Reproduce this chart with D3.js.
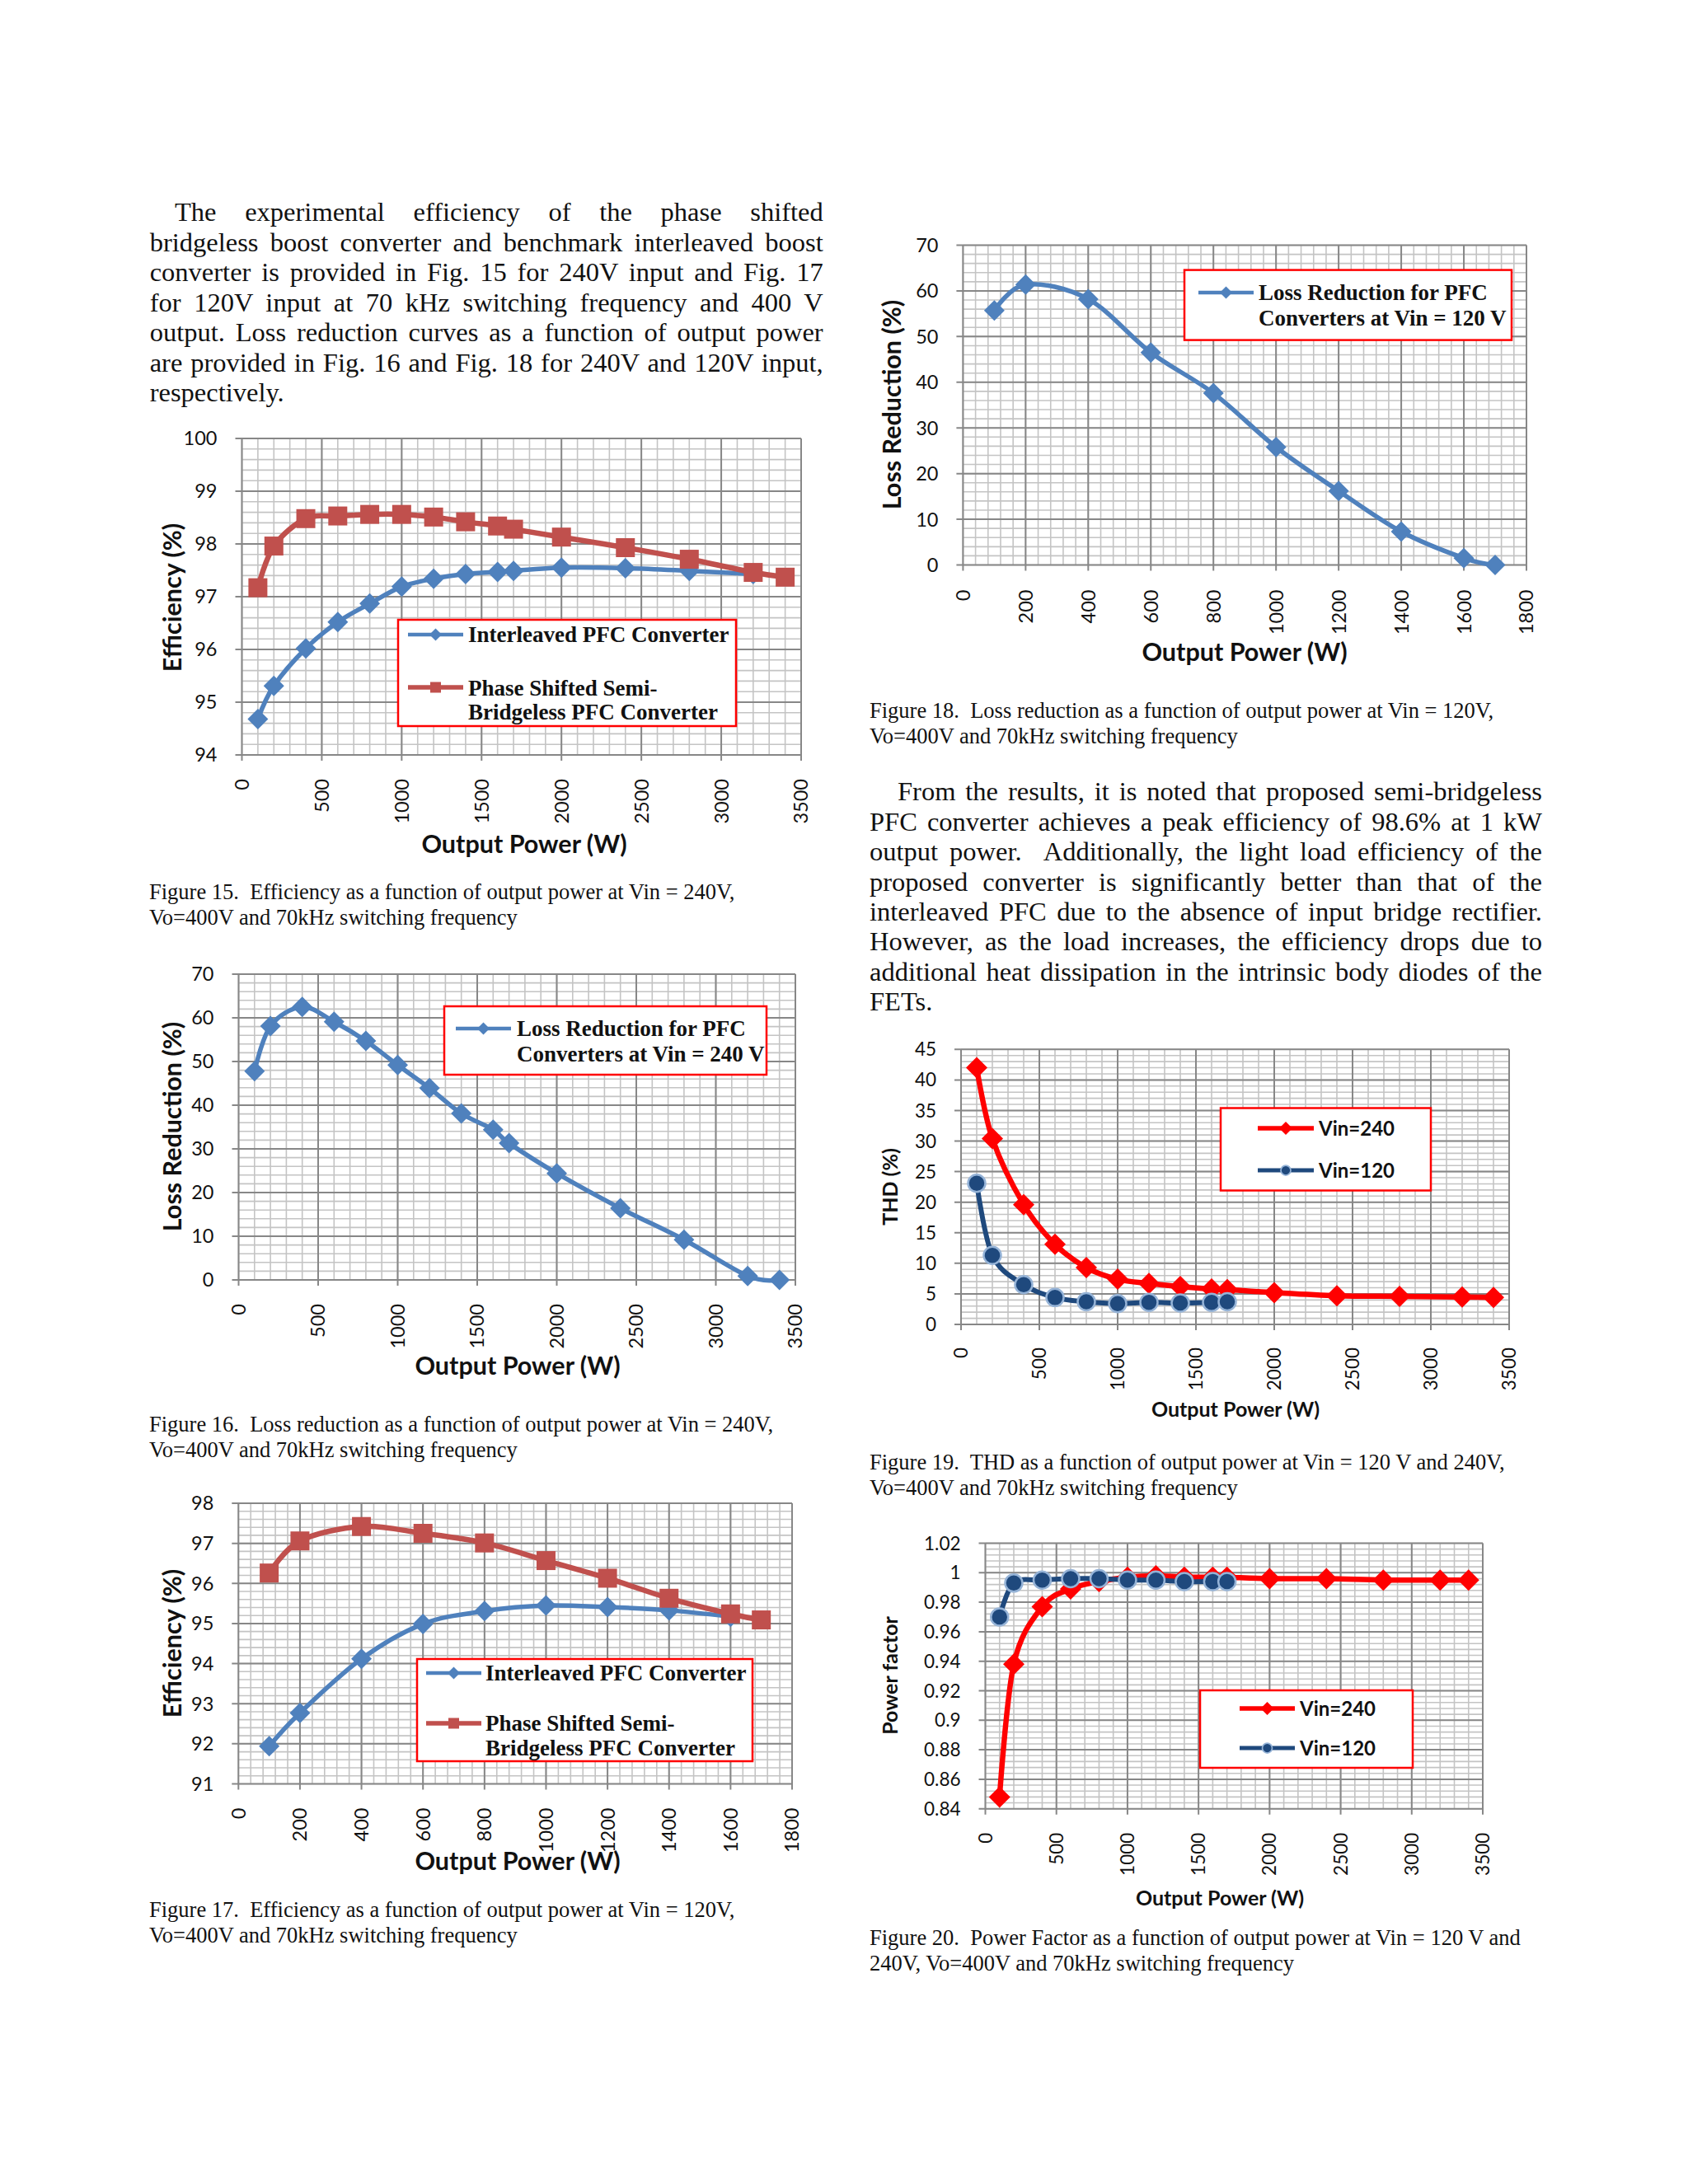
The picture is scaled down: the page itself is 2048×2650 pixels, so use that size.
<!DOCTYPE html>
<html>
<head>
<meta charset="utf-8">
<script src="https://cdn.jsdelivr.net/npm/d3@7"></script>
<style>
  body { margin: 0; background: #fff; }
  .serif { font-family: "Liberation Serif", "Times New Roman", serif; fill: #111; }
  .sans { font-family: Lato, "Open Sans", sans-serif; fill: #111; }
</style>
</head>
<body>
<svg id="page"></svg>
<script>
// --- data ---

const powerVin240 = [100, 200, 400, 600, 800, 1000, 1200, 1400, 1600, 1700, 2000, 2400, 2800, 3200, 3400];
const powerVin120 = [100, 200, 400, 600, 800, 1000, 1200, 1400, 1600, 1700];

// Fig 15 : efficiency at 240 V
const eff240Interleaved = [94.68, 95.31, 96.02, 96.52, 96.87, 97.19, 97.34, 97.43, 97.47, 97.49, 97.55, 97.54, 97.49, 97.43];
const eff240PhaseShifted = [97.17, 97.96, 98.48, 98.53, 98.56, 98.56, 98.51, 98.42, 98.34, 98.28, 98.13, 97.93, 97.71, 97.46, 97.37];
// Fig 16 : loss reduction at 240 V
const lossRed240 = [47.8, 58.1, 62.5, 59.1, 54.7, 49.2, 43.9, 38.1, 34.4, 31.3, 24.4, 16.4, 9.2, 0.9, 0];
// Fig 17 : efficiency at 120 V
const eff120Interleaved = [91.94, 92.77, 94.12, 94.99, 95.31, 95.45, 95.41, 95.33, 95.17];
const eff120PhaseShifted = [96.26, 97.06, 97.42, 97.25, 97.01, 96.57, 96.13, 95.63, 95.24, 95.09];
// Fig 18 : loss reduction at 120 V
const lossRed120 = [55.7, 61.4, 58.2, 46.5, 37.6, 25.8, 16.2, 7.3, 1.5, 0];
// Fig 19 : THD
const thd240 = [42.0, 30.4, 19.6, 13.1, 9.3, 7.4, 6.7, 6.2, 5.8, 5.7, 5.2, 4.7, 4.6, 4.5, 4.4];
const thd120 = [23.1, 11.3, 6.5, 4.4, 3.7, 3.4, 3.6, 3.5, 3.6, 3.7];
// Fig 20 : power factor
const pf240 = [0.848, 0.938, 0.977, 0.989, 0.994, 0.997, 0.998, 0.997, 0.997, 0.997, 0.996, 0.996, 0.995, 0.995, 0.995];
const pf120 = [0.970, 0.993, 0.995, 0.996, 0.996, 0.995, 0.995, 0.994, 0.994, 0.994];

// tick labels
const xTicks3500 = ['0', '500', '1000', '1500', '2000', '2500', '3000', '3500'];
const xTicks1800 = ['0', '200', '400', '600', '800', '1000', '1200', '1400', '1600', '1800'];
const yTicksEff240 = ['94', '95', '96', '97', '98', '99', '100'];
const yTicksLoss = ['0', '10', '20', '30', '40', '50', '60', '70'];
const yTicksEff120 = ['91', '92', '93', '94', '95', '96', '97', '98'];
const yTicksThd = ['0', '5', '10', '15', '20', '25', '30', '35', '40', '45'];
const yTicksPf = ['0.84', '0.86', '0.88', '0.9', '0.92', '0.94', '0.96', '0.98', '1', '1.02'];

// text of the page
const para1 = [
  'The experimental efficiency of the phase shifted',
  'bridgeless boost converter and benchmark interleaved boost',
  'converter is provided in Fig. 15 for 240V input and Fig. 17',
  'for 120V input at 70 kHz switching frequency and 400 V',
  'output. Loss reduction curves as a function of output power',
  'are provided in Fig. 16 and Fig. 18 for 240V and 120V input,',
  'respectively.'
];
const para2 = [
  'From the results, it is noted that proposed semi-bridgeless',
  'PFC converter achieves a peak efficiency of 98.6% at 1 kW',
  'output power.  Additionally, the light load efficiency of the',
  'proposed converter is significantly better than that of the',
  'interleaved PFC due to the absence of input bridge rectifier.',
  'However, as the load increases, the efficiency drops due to',
  'additional heat dissipation in the intrinsic body diodes of the',
  'FETs.'
];

const svg = d3.select('#page').attr('width', 2048).attr('height', 2650);
svg.append('rect').attr('width', 2048).attr('height', 2650).attr('fill', '#fff');

// --- helpers ---

function justified(lines, x0, indentX, width, base0, gap) {
  lines.forEach((ln, i) => {
    const x = i === 0 ? indentX : x0;
    const w = width - (x - x0);
    const t = svg.append('text').attr('class', 'serif')
      .attr('x', x).attr('y', base0 + i * gap)
      .style('font-size', '32.5px').style('white-space', 'pre')
      .text(ln);
    if (i < lines.length - 1) {
      const len = t.node().getComputedTextLength();
      const spaces = (ln.match(/ /g) || []).length;
      if (spaces) t.attr('word-spacing', (w - len) / spaces);
    }
  });
}

function caption(lines, x, base0) {
  lines.forEach((ln, i) => {
    svg.append('text').attr('class', 'serif')
      .attr('x', x).attr('y', base0 + i * 31)
      .style('font-size', '26.5px').style('white-space', 'pre')
      .text(ln);
  });
}

function markerPath(type, s) {
  if (type === 'diamond') return `M0,${-s}L${s},0L0,${s}L${-s},0Z`;
  if (type === 'square') return `M${-s},${-s}H${s}V${s}H${-s}Z`;
  return `M${s},0A${s},${s} 0 1,1 ${-s},0A${s},${s} 0 1,1 ${s},0Z`;
}

function drawChart(c) {
  const g = svg.append('g');
  const xt = c.xTicks.map(Number), yt = c.yTicks.map(Number);
  const x = d3.scaleLinear().domain([xt[0], xt[xt.length - 1]]).range([c.left, c.right]);
  const y = d3.scaleLinear().domain([yt[0], yt[yt.length - 1]]).range([c.bottom, c.top]);

  // minor grid
  const nx = Math.round((x.domain()[1] - x.domain()[0]) / c.xMinor);
  const ny = Math.round((y.domain()[1] - y.domain()[0]) / c.yMinor);
  const xMin = d3.range(nx + 1).map(i => x.domain()[0] + i * c.xMinor);
  const yMin = d3.range(ny + 1).map(i => y.domain()[0] + i * c.yMinor);
  g.selectAll(null).data(xMin).join('line')
    .attr('x1', d => x(d)).attr('x2', d => x(d)).attr('y1', c.top).attr('y2', c.bottom)
    .attr('stroke', '#c4c4c4').attr('stroke-width', 1.6);
  g.selectAll(null).data(yMin).join('line')
    .attr('x1', c.left).attr('x2', c.right).attr('y1', d => y(d)).attr('y2', d => y(d))
    .attr('stroke', '#c4c4c4').attr('stroke-width', 1.6);

  // major grid + ticks
  g.selectAll(null).data(xt).join('line')
    .attr('x1', d => x(d)).attr('x2', d => x(d)).attr('y1', c.top).attr('y2', c.bottom + 7)
    .attr('stroke', '#878787').attr('stroke-width', 2);
  g.selectAll(null).data(yt).join('line')
    .attr('x1', c.left - 8).attr('x2', c.right).attr('y1', d => y(d)).attr('y2', d => y(d))
    .attr('stroke', '#878787').attr('stroke-width', 2);

  // tick labels
  g.selectAll(null).data(c.yTicks).join('text').attr('class', 'sans')
    .attr('x', c.left - 30).attr('y', d => y(+d)).attr('dy', '0.36em')
    .attr('text-anchor', 'end').style('font-size', c.tickFont + 'px')
    .text(d => d);
  g.selectAll(null).data(c.xTicks).join('text').attr('class', 'sans')
    .attr('transform', d => `translate(${x(+d)},${c.bottom + c.xLabelGap}) rotate(-90)`)
    .attr('dy', '0.36em').attr('text-anchor', 'end').style('font-size', c.tickFont + 'px')
    .text(d => d);

  // axis titles
  g.append('text').attr('class', 'sans')
    .attr('transform', `translate(${c.yTitle[1]},${c.yTitle[2]}) rotate(-90)`)
    .attr('dy', '0.36em').attr('text-anchor', 'middle')
    .style('font-size', c.titleFont + 'px').style('font-weight', 700)
    .text(c.yTitle[0]);
  g.append('text').attr('class', 'sans')
    .attr('x', c.xTitle[1]).attr('y', c.xTitle[2]).attr('dy', '0.36em').attr('text-anchor', 'middle')
    .style('font-size', c.titleFont + 'px').style('font-weight', 700)
    .text(c.xTitle[0]);

  // series
  const line = d3.line().x(d => x(d[0])).y(d => y(d[1])).curve(d3.curveCatmullRom.alpha(0));
  c.series.forEach(s => {
    const pts = s.y.map((v, i) => [s.x[i], v]);
    g.append('path').datum(pts).attr('d', line)
      .attr('fill', 'none').attr('stroke', s.color).attr('stroke-width', s.width)
      .attr('stroke-linejoin', 'round').attr('stroke-linecap', 'round');
    g.selectAll(null).data(pts).join('path')
      .attr('transform', d => `translate(${x(d[0])},${y(d[1])})`)
      .attr('d', markerPath(s.marker, s.size))
      .attr('fill', s.fill).attr('stroke', s.stroke || 'none').attr('stroke-width', s.strokeWidth || 0);
  });

  // legend
  const lg = c.legend;
  g.append('rect').attr('x', lg.x).attr('y', lg.y).attr('width', lg.w).attr('height', lg.h)
    .attr('fill', '#fff').attr('stroke', '#ff0000').attr('stroke-width', 2.5);
  lg.items.forEach(it => {
    const s = c.series[it.series];
    g.append('line').attr('x1', lg.x1).attr('x2', lg.x2).attr('y1', it.y).attr('y2', it.y)
      .attr('stroke', s.color).attr('stroke-width', s.width * 0.85);
    g.append('path').attr('transform', `translate(${(lg.x1 + lg.x2) / 2},${it.y})`)
      .attr('d', markerPath(s.marker, it.size))
      .attr('fill', s.fill).attr('stroke', s.stroke || 'none').attr('stroke-width', (s.strokeWidth || 0) * 0.7);
    it.text.forEach((t, j) => {
      g.append('text').attr('class', lg.serif ? 'serif' : 'sans')
        .attr('x', lg.tx).attr('y', it.base + j * lg.gap)
        .style('font-size', lg.font + 'px').style('font-weight', 700)
        .text(t);
    });
  });
}

// --- text ---
justified(para1, 181.7, 212, 817, 268.3, 36.5);
justified(para2, 1055, 1089, 816, 971.3, 36.4);

caption(['Figure 15.  Efficiency as a function of output power at Vin = 240V,', 'Vo=400V and 70kHz switching frequency'], 181, 1091);
caption(['Figure 16.  Loss reduction as a function of output power at Vin = 240V,', 'Vo=400V and 70kHz switching frequency'], 181, 1737);
caption(['Figure 17.  Efficiency as a function of output power at Vin = 120V,', 'Vo=400V and 70kHz switching frequency'], 181, 2326);
caption(['Figure 18.  Loss reduction as a function of output power at Vin = 120V,', 'Vo=400V and 70kHz switching frequency'], 1055, 871);
caption(['Figure 19.  THD as a function of output power at Vin = 120 V and 240V,', 'Vo=400V and 70kHz switching frequency'], 1055, 1783);
caption(['Figure 20.  Power Factor as a function of output power at Vin = 120 V and', '240V, Vo=400V and 70kHz switching frequency'], 1055, 2360);

// --- charts ---
const BLUE = '#4f81bd', RED = '#c0504d', PURE_RED = '#ff0000', NAVY = '#1f497d';

drawChart({
  left: 293.5, right: 972, top: 532, bottom: 916,
  xTicks: xTicks3500, yTicks: yTicksEff240, xMinor: 100, yMinor: 0.2,
  tickFont: 23.5, titleFont: 30.5, xLabelGap: 29,
  yTitle: ['Efficiency (%)', 209, 725], xTitle: ['Output Power (W)', 636, 1024],
  series: [
    { x: powerVin240, y: eff240Interleaved, color: BLUE, width: 5.5, marker: 'diamond', size: 12.5, fill: BLUE },
    { x: powerVin240, y: eff240PhaseShifted, color: RED, width: 6.5, marker: 'square', size: 11.5, fill: RED }
  ],
  legend: { x: 483, y: 752, w: 410, h: 129, x1: 495, x2: 562, tx: 568, font: 27, gap: 29, serif: true,
    items: [
      { series: 0, y: 770, size: 7.5, base: 779, text: ['Interleaved PFC Converter'] },
      { series: 1, y: 834, size: 6.5, base: 844, text: ['Phase Shifted Semi-', 'Bridgeless PFC Converter'] }
    ] }
});

drawChart({
  left: 289.5, right: 965, top: 1182, bottom: 1553,
  xTicks: xTicks3500, yTicks: yTicksLoss, xMinor: 100, yMinor: 2,
  tickFont: 23.5, titleFont: 30.5, xLabelGap: 29,
  yTitle: ['Loss Reduction (%)', 209, 1367], xTitle: ['Output Power (W)', 628, 1657],
  series: [
    { x: powerVin240, y: lossRed240, color: BLUE, width: 5.5, marker: 'diamond', size: 12.5, fill: BLUE }
  ],
  legend: { x: 539, y: 1221, w: 391, h: 83, x1: 553, x2: 620, tx: 627, font: 27, gap: 31, serif: true,
    items: [
      { series: 0, y: 1248, size: 7.5, base: 1257, text: ['Loss Reduction for PFC', 'Converters at Vin = 240 V'] }
    ] }
});

drawChart({
  left: 289.3, right: 961, top: 1824, bottom: 2164.5,
  xTicks: xTicks1800, yTicks: yTicksEff120, xMinor: 40, yMinor: 0.2,
  tickFont: 23.5, titleFont: 30.5, xLabelGap: 29,
  yTitle: ['Efficiency (%)', 209, 1994], xTitle: ['Output Power (W)', 628, 2258],
  series: [
    { x: powerVin120, y: eff120Interleaved, color: BLUE, width: 5.5, marker: 'diamond', size: 12.5, fill: BLUE },
    { x: powerVin120, y: eff120PhaseShifted, color: RED, width: 6.5, marker: 'square', size: 11.5, fill: RED }
  ],
  legend: { x: 506, y: 2013, w: 407, h: 124, x1: 517, x2: 584, tx: 589, font: 27, gap: 30, serif: true,
    items: [
      { series: 0, y: 2030, size: 7.5, base: 2039, text: ['Interleaved PFC Converter'] },
      { series: 1, y: 2091, size: 6.5, base: 2100, text: ['Phase Shifted Semi-', 'Bridgeless PFC Converter'] }
    ] }
});

drawChart({
  left: 1168.4, right: 1852, top: 297.5, bottom: 685.5,
  xTicks: xTicks1800, yTicks: yTicksLoss, xMinor: 40, yMinor: 2,
  tickFont: 23.5, titleFont: 30.5, xLabelGap: 30,
  yTitle: ['Loss Reduction (%)', 1082, 491], xTitle: ['Output Power (W)', 1510, 791],
  series: [
    { x: powerVin120, y: lossRed120, color: BLUE, width: 5.5, marker: 'diamond', size: 12.5, fill: BLUE }
  ],
  legend: { x: 1437, y: 327.6, w: 397, h: 85, x1: 1454, x2: 1521, tx: 1527, font: 27, gap: 31, serif: true,
    items: [
      { series: 0, y: 355, size: 7.5, base: 364, text: ['Loss Reduction for PFC', 'Converters at Vin = 120 V'] }
    ] }
});

drawChart({
  left: 1166, right: 1831, top: 1273.3, bottom: 1607,
  xTicks: xTicks3500, yTicks: yTicksThd, xMinor: 100, yMinor: 1,
  tickFont: 22.5, titleFont: 25, xLabelGap: 28,
  yTitle: ['THD (%)', 1080, 1440], xTitle: ['Output Power (W)', 1499, 1710],
  series: [
    { x: powerVin240, y: thd240, color: PURE_RED, width: 6.5, marker: 'diamond', size: 13, fill: PURE_RED },
    { x: powerVin120, y: thd120, color: NAVY, width: 6, marker: 'circle', size: 10.5, fill: NAVY, stroke: '#95b3d7', strokeWidth: 2.5 }
  ],
  legend: { x: 1481, y: 1344.5, w: 255, h: 100, x1: 1526, x2: 1594, tx: 1600, font: 24, gap: 0, serif: false,
    items: [
      { series: 0, y: 1369, size: 8, base: 1377.5, text: ['Vin=240'] },
      { series: 1, y: 1420, size: 6, base: 1428.5, text: ['Vin=120'] }
    ] }
});

drawChart({
  left: 1195.5, right: 1799, top: 1872.5, bottom: 2194.7,
  xTicks: xTicks3500, yTicks: yTicksPf, xMinor: 100, yMinor: 0.004,
  tickFont: 22.5, titleFont: 25, xLabelGap: 29,
  yTitle: ['Power factor', 1080, 2033], xTitle: ['Output Power (W)', 1480, 2303],
  series: [
    { x: powerVin240, y: pf240, color: PURE_RED, width: 6.5, marker: 'diamond', size: 13, fill: PURE_RED },
    { x: powerVin120, y: pf120, color: NAVY, width: 6, marker: 'circle', size: 10.5, fill: NAVY, stroke: '#95b3d7', strokeWidth: 2.5 }
  ],
  legend: { x: 1456, y: 2051, w: 258, h: 94, x1: 1504, x2: 1571, tx: 1577, font: 24, gap: 0, serif: false,
    items: [
      { series: 0, y: 2073, size: 8, base: 2081.5, text: ['Vin=240'] },
      { series: 1, y: 2121, size: 6, base: 2129.5, text: ['Vin=120'] }
    ] }
});
</script>
</body>
</html>
